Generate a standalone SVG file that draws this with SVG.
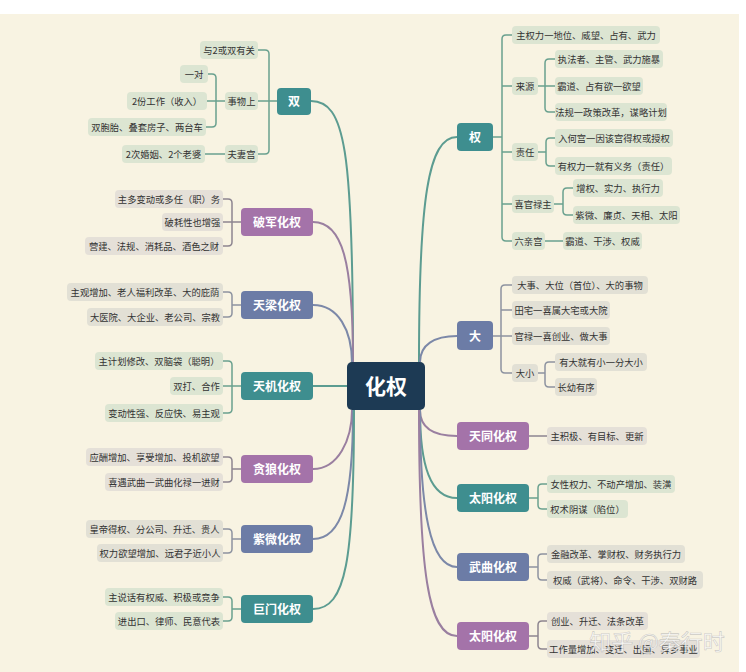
<svg xmlns="http://www.w3.org/2000/svg" width="746" height="672" viewBox="0 0 746 672">
<style>
text{font-family:"Noto Sans CJK SC","Noto Sans",sans-serif;text-anchor:middle}
.lf{font-size:9.3px;fill:#333}
.nt{font-size:12px;font-weight:bold;fill:#fff}
.lt rect{fill:#dce5d2}
.lp rect{fill:#e5e0d8}
.ls rect{fill:#e2e0d5}
.nteal{fill:#3e8e8f}
.npur{fill:#a473a9}
.nsl{fill:#6c7ca6}
.br{fill:none;stroke-width:1.5}
.bt{stroke:#6aa18f}
.bp{stroke:#8d8590}
.bs{stroke:#8d93a0}
.mc{fill:none;stroke-width:2}
</style>
<rect x="0" y="0" width="746" height="672" fill="#ffffff"/>
<rect x="0" y="14" width="739" height="658" fill="#f8f3e2"/>

<g id="connectors">
<path class="mc" stroke="#5c9c91" d="M311,101 C345,101 353,150 353,362"/>
<path class="mc" stroke="#9a7fa0" d="M313,222 C342,222 353,260 353,362"/>
<path class="mc" stroke="#7c88a8" d="M313,305 C338,305 352,330 352,363"/>
<path class="mc" stroke="#5c9c91" d="M313,386 H347"/>
<path class="mc" stroke="#9a7fa0" d="M313,469 C338,469 352,440 352,410"/>
<path class="mc" stroke="#7c88a8" d="M313,539 C342,539 353,500 353,410"/>
<path class="mc" stroke="#5c9c91" d="M313,609 C346,609 354,560 354,410"/>
<path class="mc" stroke="#5c9c91" d="M457,137 C428,137 419,200 419,362"/>
<path class="mc" stroke="#7c88a8" d="M457,336 C434,336 420,345 420,362"/>
<path class="mc" stroke="#9a7fa0" d="M457,436 C434,436 420,428 420,410"/>
<path class="mc" stroke="#5c9c91" d="M457,498 C430,498 420,465 420,410"/>
<path class="mc" stroke="#7c88a8" d="M457,567 C430,567 420,510 420,410"/>
<path class="mc" stroke="#9a7fa0" d="M457,636 C428,636 419,570 419,410"/>

<path class="br bt" d="M277,101 H258 M258,50 H265 Q269,50 269,54 V150 Q269,154 265,154 H258"/>
<path class="br bt" d="M225,101 H207 M208,74 H212 Q216,74 216,78 V123 Q216,127 212,127 H206"/>
<path class="br bt" d="M205,154 H225"/>
<path class="br bp" d="M241,222 H223 M223,199 H228 Q232,199 232,203 V242 Q232,246 228,246 H223"/>
<path class="br bs" d="M241,305 H232 M223,292 H228 Q232,292 232,296 V313 Q232,317 228,317 H223"/>
<path class="br bt" d="M241,386 H223 M223,361 H228 Q232,361 232,365 V409 Q232,413 228,413 H223"/>
<path class="br bp" d="M241,469 H232 M223,457 H228 Q232,457 232,461 V478 Q232,482 228,482 H223"/>
<path class="br bs" d="M241,539 H232 M223,529 H228 Q232,529 232,533 V549 Q232,553 228,553 H223"/>
<path class="br bt" d="M241,609 H232 M223,597 H228 Q232,597 232,601 V617 Q232,621 228,621 H223"/>

<path class="br bt" d="M493,137 H502 M512,35 H506 Q502,35 502,39 V237 Q502,241 506,241 H512 M502,86 H512 M502,152 H512 M502,204 H512"/>
<path class="br bt" d="M538,86 H555 M555,59 H549 Q545,59 545,63 V108 Q545,112 549,112 H555"/>
<path class="br bt" d="M538,152 H546 M555,138 H550 Q546,138 546,142 V162 Q546,166 550,166 H555"/>
<path class="br bt" d="M554,204 H563 M573,188 H567 Q563,188 563,192 V211 Q563,215 567,215 H573"/>
<path class="br bt" d="M545,241 H563"/>
<path class="br bs" d="M493,336 H512 M512,285 H505 Q501,285 501,289 V369 Q501,373 505,373 H512 M501,310 H512"/>
<path class="br bs" d="M538,373 H545 M555,362 H549 Q545,362 545,366 V383 Q545,387 549,387 H555"/>
<path class="br bp" d="M529,436 H547"/>
<path class="br bt" d="M529,498 H538 M547,484 H542 Q538,484 538,488 V505 Q538,509 542,509 H547"/>
<path class="br bs" d="M529,567 H538 M547,554 H542 Q538,554 538,558 V576 Q538,580 542,580 H547"/>
<path class="br bp" d="M529,636 H538 M547,621 H542 Q538,621 538,625 V645 Q538,649 542,649 H547"/>
</g>

<g id="center">
<rect x="347" y="362" width="78" height="48" rx="5" fill="#1d3a54"/>
<text x="386" y="394" style="font-size:21px;font-weight:bold;fill:#fff">化权</text>
</g>

<g id="shuang" class="lt">
<rect class="nteal" x="277" y="88" width="34" height="27" rx="4" style="fill:#3e8e8f"/>
<text class="nt" x="294" y="106">双</text>
<rect x="200" y="41" width="58" height="18" rx="4"/><text class="lf" x="229" y="53.5">与2或双有关</text>
<rect x="225" y="92" width="33" height="18" rx="4"/><text class="lf" x="241.5" y="104.5">事物上</text>
<rect x="225" y="145" width="33" height="18" rx="4"/><text class="lf" x="241.5" y="157.5">夫妻宫</text>
<rect x="180" y="65" width="28" height="18" rx="4"/><text class="lf" x="194" y="77.5">一对</text>
<rect x="127" y="92" width="80" height="18" rx="4"/><text class="lf" x="167" y="104.5">2份工作（收入）</text>
<rect x="88" y="118" width="118" height="18" rx="4"/><text class="lf" x="147" y="130.5">双胞胎、叠套房子、两台车</text>
<rect x="122" y="145" width="83" height="18" rx="4"/><text class="lf" x="163.5" y="157.5">2次婚姻、2个老婆</text>
</g>

<g id="pojun" class="lp">
<rect x="241" y="208" width="72" height="28" rx="4" style="fill:#a473a9"/>
<text class="nt" x="277" y="226.5">破军化权</text>
<rect x="115" y="190" width="108" height="18" rx="4"/><text class="lf" x="169" y="202.5">主多变动或多任（职）务</text>
<rect x="162" y="213" width="61" height="18" rx="4"/><text class="lf" x="192.5" y="225.5">破耗性也增强</text>
<rect x="85" y="237" width="138" height="18" rx="4"/><text class="lf" x="154" y="249.5">营建、法规、消耗品、酒色之财</text>
</g>

<g id="tianliang" class="ls">
<rect x="241" y="291" width="72" height="28" rx="4" style="fill:#6c7ca6"/>
<text class="nt" x="277" y="309.5">天梁化权</text>
<rect x="67" y="283" width="156" height="18" rx="4"/><text class="lf" x="145" y="295.5">主观增加、老人福利改革、大的庇荫</text>
<rect x="87" y="308" width="136" height="18" rx="4"/><text class="lf" x="155" y="320.5">大医院、大企业、老公司、宗教</text>
</g>

<g id="tianji" class="lt">
<rect x="241" y="372" width="72" height="28" rx="4" style="fill:#3e8e8f"/>
<text class="nt" x="277" y="390.5">天机化权</text>
<rect x="95" y="352" width="128" height="18" rx="4"/><text class="lf" x="159" y="364.5">主计划修改、双脑袋（聪明）</text>
<rect x="170" y="377" width="53" height="18" rx="4"/><text class="lf" x="196.5" y="389.5">双打、合作</text>
<rect x="105" y="404" width="118" height="18" rx="4"/><text class="lf" x="164" y="416.5">变动性强、反应快、易主观</text>
</g>

<g id="tanlang" class="lp">
<rect x="241" y="455" width="72" height="28" rx="4" style="fill:#a473a9"/>
<text class="nt" x="277" y="473.5">贪狼化权</text>
<rect x="86" y="448" width="137" height="18" rx="4"/><text class="lf" x="154.5" y="460.5">应酬增加、享受增加、投机欲望</text>
<rect x="105" y="473" width="118" height="18" rx="4"/><text class="lf" x="164" y="485.5">喜遇武曲一武曲化禄一进财</text>
</g>

<g id="ziwei" class="ls">
<rect x="241" y="525" width="72" height="28" rx="4" style="fill:#6c7ca6"/>
<text class="nt" x="277" y="543.5">紫微化权</text>
<rect x="86" y="520" width="137" height="18" rx="4"/><text class="lf" x="154.5" y="532.5">皇帝得权、分公司、升迁、贵人</text>
<rect x="97" y="544" width="126" height="18" rx="4"/><text class="lf" x="160" y="556.5">权力欲望增加、远君子近小人</text>
</g>

<g id="jumen" class="lt">
<rect x="241" y="595" width="72" height="28" rx="4" style="fill:#3e8e8f"/>
<text class="nt" x="277" y="613.5">巨门化权</text>
<rect x="105" y="588" width="118" height="18" rx="4"/><text class="lf" x="164" y="600.5">主说话有权威、积极或竞争</text>
<rect x="115" y="612" width="108" height="18" rx="4"/><text class="lf" x="169" y="624.5">进出口、律师、民意代表</text>
</g>

<g id="quan" class="lt">
<rect x="457" y="123" width="36" height="28" rx="4" style="fill:#3e8e8f"/>
<text class="nt" x="475" y="141.5">权</text>
<rect x="512" y="26" width="148" height="18" rx="4"/><text class="lf" x="586" y="38.5">主权力一地位、威望、占有、武力</text>
<rect x="512" y="77" width="26" height="18" rx="4"/><text class="lf" x="525" y="89.5">来源</text>
<rect x="555" y="50" width="108" height="18" rx="4"/><text class="lf" x="609" y="62.5">执法者、主管、武力施暴</text>
<rect x="555" y="77" width="88" height="18" rx="4"/><text class="lf" x="599" y="89.5">霸道、占有欲一欲望</text>
<rect x="555" y="103" width="112" height="18" rx="4"/><text class="lf" x="611" y="115.5">法规一政策改革，谋略计划</text>
<rect x="512" y="143" width="26" height="18" rx="4"/><text class="lf" x="525" y="155.5">责任</text>
<rect x="555" y="129" width="118" height="18" rx="4"/><text class="lf" x="614" y="141.5">入何宫一因该宫得权或授权</text>
<rect x="555" y="157" width="117" height="18" rx="4"/><text class="lf" x="613.5" y="169.5">有权力一就有义务（责任）</text>
<rect x="512" y="195" width="42" height="18" rx="4"/><text class="lf" x="533" y="207.5">喜官禄主</text>
<rect x="573" y="179" width="90" height="18" rx="4"/><text class="lf" x="618" y="191.5">增权、实力、执行力</text>
<rect x="573" y="206" width="107" height="18" rx="4"/><text class="lf" x="626.5" y="218.5">紫微、廉贞、天相、太阳</text>
<rect x="512" y="232" width="33" height="18" rx="4"/><text class="lf" x="528.5" y="244.5">六亲宫</text>
<rect x="563" y="232" width="79" height="18" rx="4"/><text class="lf" x="602.5" y="244.5">霸道、干涉、权威</text>
</g>

<g id="da" class="ls">
<rect x="457" y="321" width="36" height="29" rx="4" style="fill:#6c7ca6"/>
<text class="nt" x="475" y="340.5">大</text>
<rect x="512" y="276" width="136" height="18" rx="4"/><text class="lf" x="580" y="288.5">大事、大位（首位）、大的事物</text>
<rect x="512" y="301" width="98" height="18" rx="4"/><text class="lf" x="561" y="313.5">田宅一喜属大宅或大院</text>
<rect x="512" y="327" width="98" height="18" rx="4"/><text class="lf" x="561" y="339.5">官禄一喜创业、做大事</text>
<rect x="512" y="364" width="26" height="18" rx="4"/><text class="lf" x="525" y="376.5">大小</text>
<rect x="555" y="353" width="92" height="18" rx="4"/><text class="lf" x="601" y="365.5">有大就有小一分大小</text>
<rect x="555" y="378" width="42" height="18" rx="4"/><text class="lf" x="576" y="390.5">长幼有序</text>
</g>

<g id="tiantong" class="lp">
<rect x="457" y="422" width="72" height="28" rx="4" style="fill:#a473a9"/>
<text class="nt" x="493" y="440.5">天同化权</text>
<rect x="547" y="427" width="100" height="18" rx="4"/><text class="lf" x="597" y="439.5">主积极、有目标、更新</text>
</g>

<g id="taiyang1" class="lt">
<rect x="457" y="484" width="72" height="28" rx="4" style="fill:#3e8e8f"/>
<text class="nt" x="493" y="502.5">太阳化权</text>
<rect x="547" y="475" width="128" height="18" rx="4"/><text class="lf" x="611" y="487.5">女性权力、不动产增加、装潢</text>
<rect x="547" y="500" width="81" height="18" rx="4"/><text class="lf" x="587.5" y="512.5">权术阴谋（陷位）</text>
</g>

<g id="wuqu" class="ls">
<rect x="457" y="553" width="72" height="28" rx="4" style="fill:#6c7ca6"/>
<text class="nt" x="493" y="571.5">武曲化权</text>
<rect x="547" y="545" width="138" height="18" rx="4"/><text class="lf" x="616" y="557.5">金融改革、掌财权、财务执行力</text>
<rect x="547" y="571" width="156" height="18" rx="4"/><text class="lf" x="625" y="583.5">权威（武将）、命令、干涉、双财路</text>
</g>

<g id="taiyang2" class="lp">
<rect x="457" y="622" width="72" height="28" rx="4" style="fill:#a473a9"/>
<text class="nt" x="493" y="640.5">太阳化权</text>
<rect x="547" y="612" width="101" height="18" rx="4"/><text class="lf" x="597.5" y="624.5">创业、升迁、法条改革</text>
<rect x="547" y="640" width="153" height="18" rx="4"/><text class="lf" x="623.5" y="652.5">工作量增加、变迁、出国、异乡事业</text>
</g>

<text x="657" y="650" style="font-size:22px;fill:#ffffff;fill-opacity:0.75;stroke:#9a9a9a;stroke-opacity:0.5;stroke-width:0.6">知乎 @秦行时</text>
</svg>
